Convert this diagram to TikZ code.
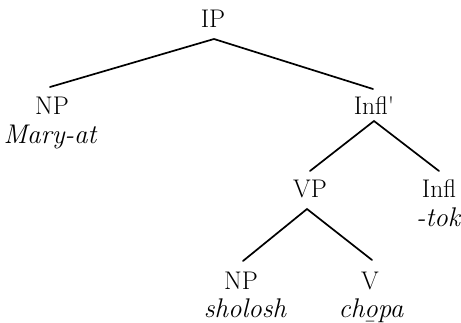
\documentclass[tikz,border=0pt]{standalone}
\begin{document}
\begin{tikzpicture}[x=1pt,y=-1pt,
  cat/.style={anchor=base,inner sep=0pt,font=\fontsize{25.5}{30}\selectfont},
  word/.style={anchor=base,inner sep=0pt,font=\fontsize{27}{32}\selectfont\itshape},
  branch/.style={line width=1.7pt,line cap=round}]
\useasboundingbox (0,0) rectangle (461,323);
\node[cat] (IP) at (213,28) {IP};
\node[cat] (NPa) at (52,115) {NP};
\node[word] (mary) at (50,144) {Mary-at};
\node[cat] (Inflbar) at (374,115) {Infl\textquotesingle};
\node[cat] (VP) at (310,198) {VP};
\node[cat] (Infl) at (439,198) {Infl};
\node[word] (tok) at (438,227) {-tok};
\node[cat] (NPb) at (241,290) {NP};
\node[word] (sholosh) at (245,318) {sholosh};
\node[cat] (V) at (370,290) {V};
\node[word] (chopa) at (371,318) {ch\b{o}pa};
\coordinate (IPd) at (214,39);
\coordinate (NPau) at (50,87);
\coordinate (Inflbaru) at (373,89);
\coordinate (Inflbard) at (374,121);
\coordinate (VPu) at (310,171);
\coordinate (Influ) at (439,171);
\coordinate (VPd) at (307,209);
\coordinate (NPbu) at (243,261);
\coordinate (Vu) at (372,260);
\draw[branch] (NPau) -- (IPd) -- (Inflbaru);
\draw[branch] (VPu) -- (Inflbard) -- (Influ);
\draw[branch] (NPbu) -- (VPd) -- (Vu);
\end{tikzpicture}
\end{document}
